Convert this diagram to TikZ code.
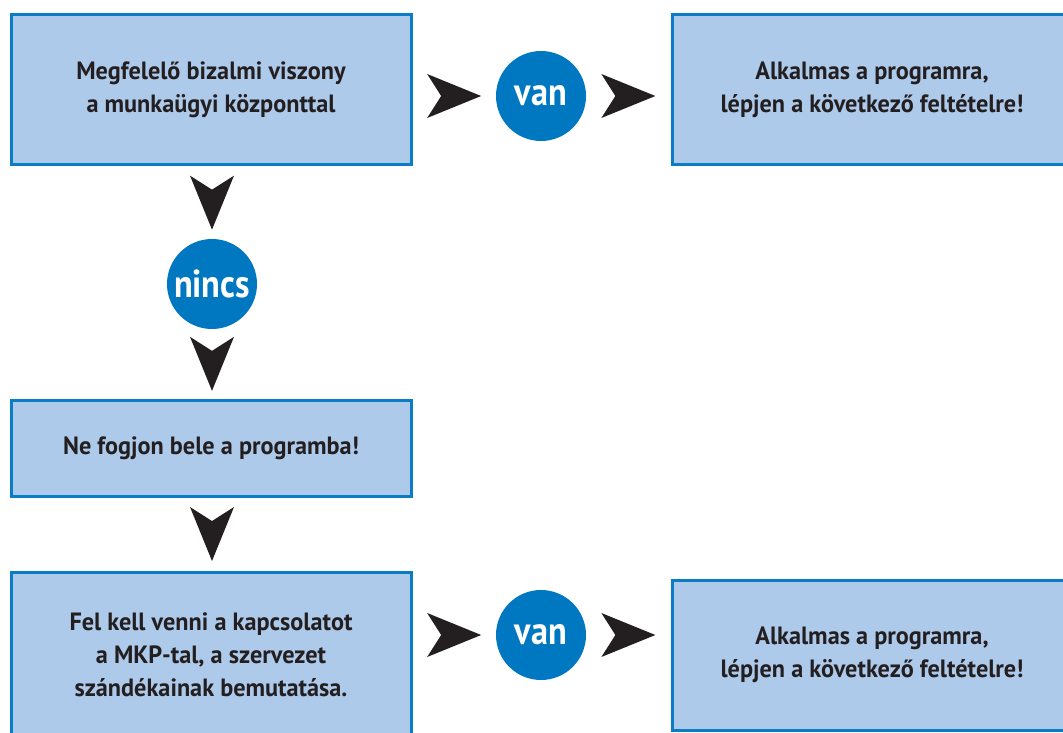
\documentclass[tikz,border=0pt]{standalone}
\usepackage{fontspec}
\setmainfont{PT Sans}
\newfontfamily\boxfont{PT Sans Bold}[FakeStretch=0.97]
\newfontfamily\badgefont{PT Sans Bold}[FakeStretch=0.88]
\usetikzlibrary{calc}
\definecolor{boxfill}{HTML}{AECAEB}
\definecolor{boxline}{HTML}{0B7DC4}
\definecolor{badge}{HTML}{0078C1}
\definecolor{ink}{HTML}{231F20}
\tikzset{
  infobox/.style={draw=boxline, fill=boxfill, line width=3pt, minimum width=400pt,
    align=center, text=ink, font=\boxfont\fontsize{25}{33}\selectfont, inner sep=0pt},
  answer/.style={circle, fill=badge, minimum size=90pt, inner sep=0pt, text=white,
    font=\badgefont\fontsize{39}{39}\selectfont},
  pics/chevron/.style={code={\fill[ink] (27,0) -- (-27,22) -- (-13,0) -- (-27,-22) -- cycle;}}
}
\begin{document}
\begin{tikzpicture}[x=1pt, y=-1pt]
\useasboundingbox (0,0) rectangle (1063,733);
\clip (0,0) rectangle (1063,733);
% boxes
\node[infobox, minimum height=150pt] (trust) at (211,90)
  {Megfelelő bizalmi viszony\\a munkaügyi központtal};
\node[infobox, minimum height=150pt] (ok1) at (872,90)
  {Alkalmas a programra,\\lépjen a következő feltételre!};
\node[infobox, minimum height=96pt] (stop) at (211,448)
  {Ne fogjon bele a programba!};
\node[infobox, minimum height=166pt] (contact) at (211,655)
  {Fel kell venni a kapcsolatot\\a MKP-tal, a szervezet\\szándékainak bemutatása.};
\node[infobox, minimum height=150pt] (ok2) at (872,655)
  {Alkalmas a programra,\\lépjen a következő feltételre!};
% answers
\node[answer] (van1) at (541,96) {van};
\node[answer] (nincs) at (212,284) {nincs};
\node[answer] (van2) at (541,635) {van};
% chevrons between the steps
\pic at ($(trust.east|-van1)!0.5!(van1.west)$) {chevron};
\pic at ($(van1.east)!0.5!(ok1.west|-van1)$) {chevron};
\pic[rotate=-90] at ($(trust.south-|nincs)!0.5!(nincs.north)$) {chevron};
\pic[rotate=-90] at ($(nincs.south)!0.5!(stop.north-|nincs)$) {chevron};
\pic[rotate=-90] at ($(stop.south-|nincs)!0.5!(contact.north-|nincs)$) {chevron};
\pic at ($(contact.east|-van2)!0.5!(van2.west)$) {chevron};
\pic at ($(van2.east)!0.5!(ok2.west|-van2)$) {chevron};
\end{tikzpicture}
\end{document}
